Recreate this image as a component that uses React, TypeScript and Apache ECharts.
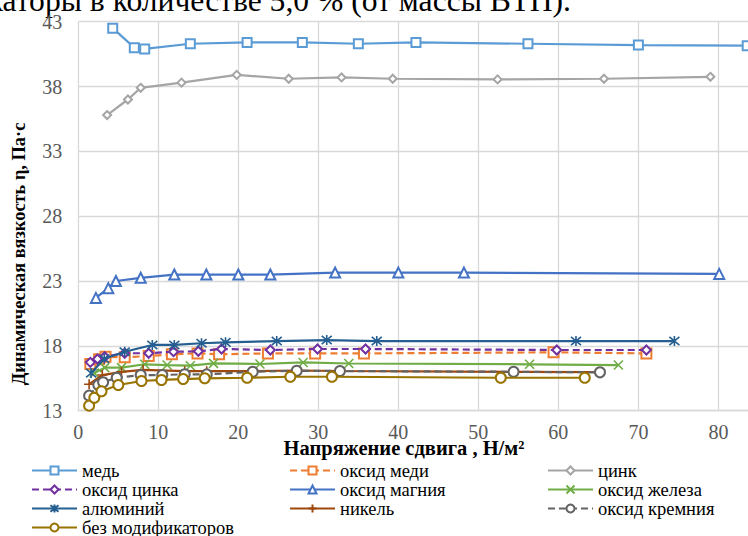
import React, { useEffect, useRef } from "react";
import * as echarts from "echarts";

// ---- data ----
const xTicks = [0, 10, 20, 30, 40, 50, 60, 70, 80];
const xAxisMax = 83.7;
const yTicks = [13, 18, 23, 28, 33, 38, 43];

const seriesNames = [
  "медь",
  "оксид меди",
  "цинк",
  "оксид цинка",
  "оксид магния",
  "оксид железа",
  "алюминий",
  "никель",
  "оксид кремния",
  "без модификаторов",
];

const med = [[4.3, 42.5], [7.0, 41.0], [8.3, 40.9], [14.0, 41.3], [21.1, 41.4], [28.0, 41.4], [35.0, 41.3], [42.2, 41.4], [56.2, 41.3], [70.0, 41.2], [83.6, 41.15]];
const oksidMedi = [[1.5, 16.6], [2.6, 16.96], [3.4, 17.17], [5.8, 17.12], [8.8, 17.22], [11.7, 17.35], [14.9, 17.42], [17.6, 17.35], [23.7, 17.42], [29.6, 17.42], [35.7, 17.42], [59.4, 17.5], [71.0, 17.42]];
const tsink = [[3.6, 35.8], [6.2, 37.0], [7.8, 37.9], [12.9, 38.3], [19.8, 38.9], [26.3, 38.6], [32.9, 38.7], [39.3, 38.6], [52.4, 38.55], [65.7, 38.6], [79.0, 38.75]];
const oksidTsinka = [[1.5, 16.73], [2.4, 16.99], [3.3, 17.16], [5.8, 17.43], [8.8, 17.43], [11.9, 17.55], [15.0, 17.58], [17.9, 17.76], [24.0, 17.68], [29.9, 17.76], [35.9, 17.76], [59.8, 17.68], [71.0, 17.68]];
const oksidMagniya = [[2.2, 21.7], [3.75, 22.45], [4.7, 23.0], [7.8, 23.25], [12.0, 23.5], [16.0, 23.5], [20.0, 23.5], [24.0, 23.5], [32.1, 23.65], [40.0, 23.65], [48.2, 23.65], [80.1, 23.55]];
const oksidZheleza = [[2.0, 15.9], [3.3, 16.32], [5.4, 16.32], [8.3, 16.58], [11.1, 16.52], [14.0, 16.47], [16.9, 16.65], [22.7, 16.6], [28.1, 16.72], [33.8, 16.64], [56.4, 16.58], [67.5, 16.52]];
const alyuminiy = [[1.6, 15.9], [3.25, 17.0], [5.8, 17.55], [9.25, 18.07], [12.0, 18.07], [15.4, 18.2], [18.4, 18.27], [24.8, 18.37], [31.05, 18.45], [37.3, 18.37], [62.2, 18.37], [74.5, 18.37]];
const nikel = [[1.35, 15.04], [3.0, 15.75], [5.4, 16.0], [8.1, 16.15], [13.3, 16.05], [16.05, 16.05], [21.8, 16.05], [27.3, 16.1], [32.7, 16.06], [54.4, 16.0], [65.2, 15.98]];
const oksidKremniya = [[1.35, 14.16], [2.5, 14.98], [3.1, 15.19], [4.8, 15.54], [7.8, 15.75], [10.5, 15.75], [13.3, 15.81], [16.05, 15.8], [21.8, 16.0], [27.3, 16.08], [32.7, 16.06], [54.4, 16.0], [65.2, 15.96]];
const bezModifikatorov = [[1.35, 13.39], [2.0, 14.0], [2.9, 14.5], [5.0, 14.98], [7.9, 15.29], [10.4, 15.37], [13.1, 15.44], [15.8, 15.5], [21.1, 15.54], [26.5, 15.62], [31.7, 15.62], [52.8, 15.54], [63.3, 15.54]];

const seriesData = [med, oksidMedi, tsink, oksidTsinka, oksidMagniya, oksidZheleza, alyuminiy, nikel, oksidKremniya, bezModifikatorov];

const titleText = "модификаторы в количестве 5,0 % (от массы ВТП).";
const xAxisTitle = "Напряжение сдвига , Н/м²";
const yAxisTitle = "Динамическая вязкость η, Па·с";

// ---- styles ----
const colors = ["#5B9BD5", "#ED7D31", "#A5A5A5", "#7030A0", "#4472C4", "#70AD47", "#255E91", "#9E480E", "#636363", "#997300"];
const dashed = [false, true, false, true, false, false, false, false, true, false];
const symbols = [
  "emptyRect",
  "emptyRect",
  "emptyDiamond",
  "emptyDiamond",
  "emptyTriangle",
  "path://M0,0L10,10M10,0L0,10",
  "path://M0,0L10,10M10,0L0,10M5,-1L5,11",
  "path://M5,0L5,10M0,5L10,5",
  "emptyCircle",
  "emptyCircle",
];
const symbolSizes = [9, 10, 8, 9, 10, 9, 10, 10, 10, 10];
const legendCols = [31, 289, 547];
const legendRows = [470, 489, 508, 527];

const SERIF = "Liberation Serif, Times New Roman, serif";

export default function App() {
  const ref = useRef<HTMLDivElement>(null);
  useEffect(() => {
    if (!ref.current) return;
    const chart = echarts.init(ref.current, undefined, { renderer: "svg" });
    const series = seriesNames.map((name, i) => {
      const isPath = symbols[i].startsWith("path://");
      return {
        name,
        type: "line",
        data: seriesData[i],
        symbol: symbols[i],
        symbolSize: symbolSizes[i],
        showAllSymbol: true,
        clip: true,
        lineStyle: { color: colors[i], width: 2.2, type: dashed[i] ? [7, 4] : "solid" },
        itemStyle: isPath
          ? { color: colors[i], borderColor: colors[i], borderWidth: 1.6 }
          : { color: colors[i], borderWidth: 1.5 },
        z: 2 + i,
      };
    });
    const legends = seriesNames.map((name, i) => ({
      data: [name],
      left: legendCols[i % 3],
      top: legendRows[Math.floor(i / 3)] - 9,
      orient: "horizontal",
      padding: 0,
      itemWidth: 45,
      itemHeight: 10,
      selectedMode: false,
      textStyle: { fontFamily: SERIF, fontSize: 18.5, lineHeight: 18, color: "#000" },
    }));
    chart.setOption({
      animation: false,
      backgroundColor: "#fff",
      grid: { left: 78.3, top: 21.7, right: 0, height: 389, containLabel: false },
      xAxis: {
        type: "value",
        min: xTicks[0],
        max: xAxisMax,
        interval: 10,
        axisLine: { show: true, lineStyle: { color: "#D9D9D9", width: 1.3 } },
        axisTick: { show: false },
        splitLine: { show: true, showMaxLine: false, lineStyle: { color: "#D9D9D9", width: 1.3 } },
        axisLabel: { color: "#595959", fontFamily: SERIF, fontSize: 20, margin: 11, showMaxLabel: false },
      },
      yAxis: {
        type: "value",
        min: yTicks[0],
        max: yTicks[yTicks.length - 1],
        interval: 5,
        axisLine: { show: false },
        axisTick: { show: false },
        splitLine: { show: true, lineStyle: { color: "#D9D9D9", width: 1.3 } },
        axisLabel: { color: "#595959", fontFamily: SERIF, fontSize: 20, margin: 16 },
      },
      legend: legends,
      graphic: [
        {
          type: "text",
          x: 571,
          y: 0,
          style: { text: titleText, fontFamily: SERIF, fontSize: 31.6, fill: "#000", align: "right", verticalAlign: "middle" },
        },
        {
          type: "text",
          x: 404,
          y: 448,
          style: { text: xAxisTitle, fontFamily: SERIF, fontWeight: "bold", fontSize: 20.5, fill: "#000", align: "center", verticalAlign: "middle" },
        },
        {
          type: "text",
          x: 19,
          y: 254,
          rotation: Math.PI / 2,
          style: { text: yAxisTitle, fontFamily: SERIF, fontWeight: "bold", fontSize: 18.4, fill: "#000", align: "center", verticalAlign: "middle" },
        },
      ],
      series,
    });
    return () => chart.dispose();
  }, []);
  return <div ref={ref} style={{ position: "fixed", left: 0, top: 0, width: 748, height: 536 }} />;
}
